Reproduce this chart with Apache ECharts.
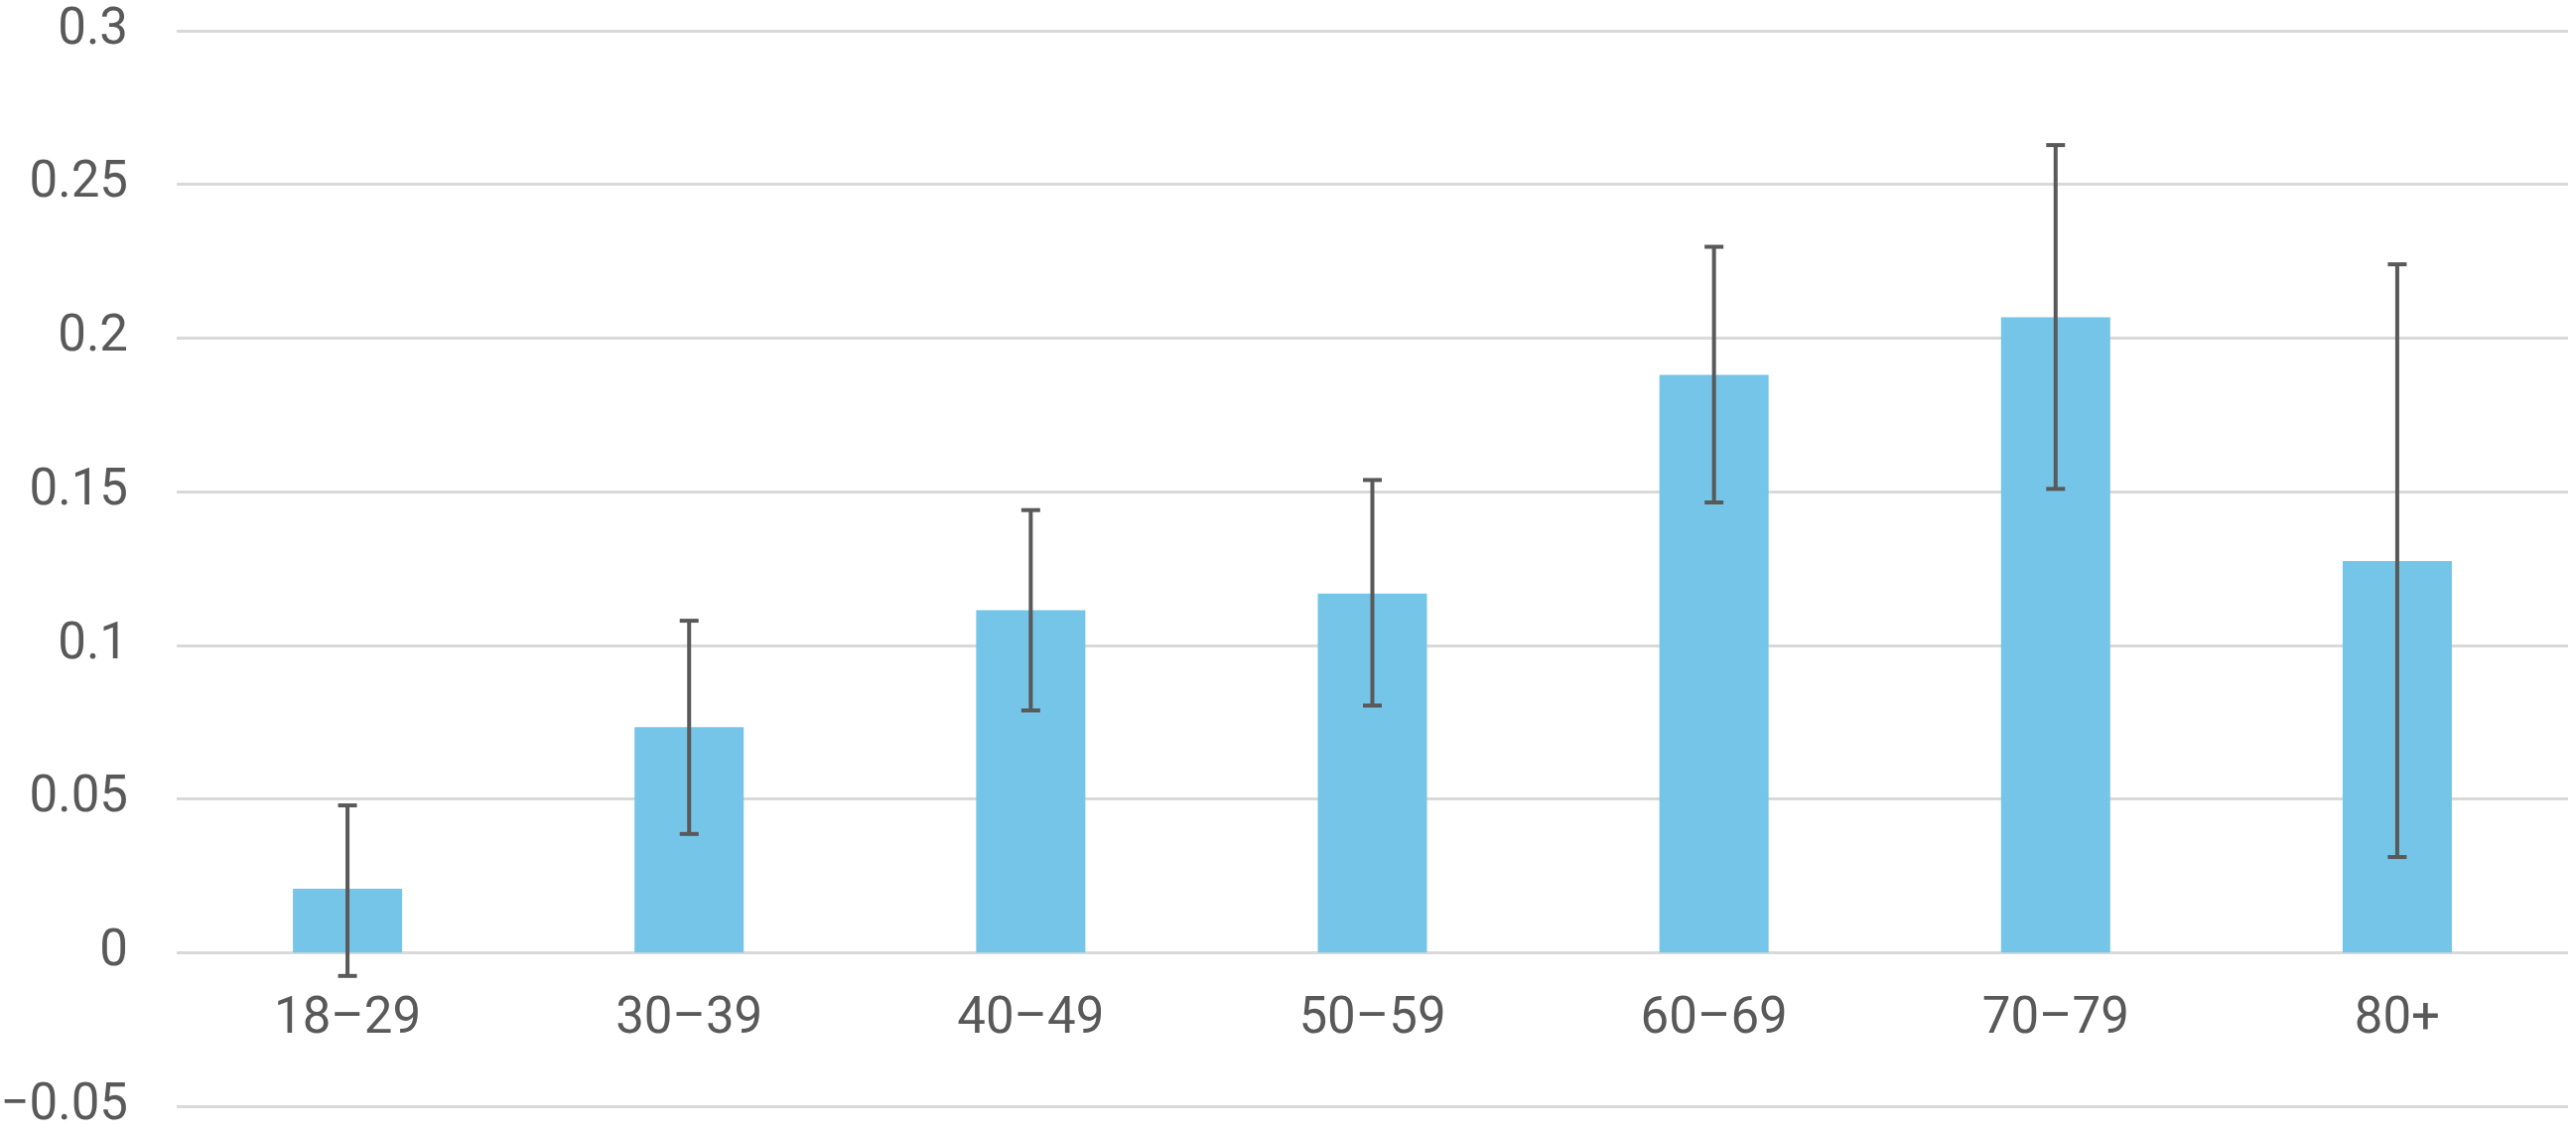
<!DOCTYPE html>
<html>
<head>
<meta charset="utf-8">
<script src="https://cdn.jsdelivr.net/npm/echarts@6/dist/echarts.min.js"></script>
<style>html,body{margin:0;padding:0;background:#fff}#c{width:2595px;height:1144px}</style>
</head>
<body>
<div id="c"></div>
<script>
const categories = ['18–29', '30–39', '40–49', '50–59', '60–69', '70–79', '80+'];
const values = [0.0208, 0.0734, 0.1114, 0.1168, 0.188, 0.2068, 0.1274];
const errLow = [-0.0076, 0.0386, 0.0788, 0.0804, 0.1465, 0.1509, 0.0311];
const errHigh = [0.0479, 0.108, 0.144, 0.1538, 0.2297, 0.2628, 0.224];
const yTickLabels = {'-0.05': '−0.05', '0': '0', '0.05': '0.05', '0.1': '0.1', '0.15': '0.15', '0.2': '0.2', '0.25': '0.25', '0.3': '0.3'};

const errData = categories.map((c, i) => [i, errLow[i], errHigh[i]]);
const chart = echarts.init(document.getElementById('c'));
const txt = '#595959';
const gridTop = 31, gridBottom = 30, H = 1144;
const yMin = -0.05, yMax = 0.3;
// move the category axis up to the zero line
const zeroOffset = -(H - gridTop - gridBottom) * (0 - yMin) / (yMax - yMin);
chart.setOption({
  animation: false,
  grid: {left: 178, right: 8, top: gridTop, bottom: gridBottom, containLabel: false, outerBoundsMode: 'none'},
  xAxis: {
    type: 'category', data: categories, position: 'bottom', offset: zeroOffset,
    axisLine: {show: false, onZero: false},
    axisTick: {show: false},
    axisLabel: {show: true, color: txt, fontFamily: 'Roboto', fontSize: 51, margin: 42, interval: 0}
  },
  yAxis: {
    type: 'value', min: yMin, max: yMax, interval: 0.05,
    axisLine: {show: false}, axisTick: {show: false},
    splitLine: {lineStyle: {color: '#D9D9D9', width: 3}},
    axisLabel: {color: txt, fontFamily: 'Roboto', fontSize: 51, margin: 49,
      formatter: v => yTickLabels[String(Math.round(v * 100) / 100)] ?? String(v)}
  },
  series: [
    {type: 'bar', data: values, barWidth: 110, itemStyle: {color: '#75C5E8'}},
    {type: 'custom', data: errData, z: 10,
      renderItem: function (params, api) {
        const x = api.value(0);
        const lo = api.coord([x, api.value(1)]);
        const hi = api.coord([x, api.value(2)]);
        const hw = 9.5;
        const st = {stroke: '#595959', lineWidth: 4};
        return {type: 'group', children: [
          {type: 'line', shape: {x1: lo[0], y1: lo[1], x2: hi[0], y2: hi[1]}, style: st},
          {type: 'line', shape: {x1: lo[0] - hw, y1: lo[1], x2: lo[0] + hw, y2: lo[1]}, style: st},
          {type: 'line', shape: {x1: hi[0] - hw, y1: hi[1], x2: hi[0] + hw, y2: hi[1]}, style: st}
        ]};
      }}
  ]
});
</script>
</body>
</html>
